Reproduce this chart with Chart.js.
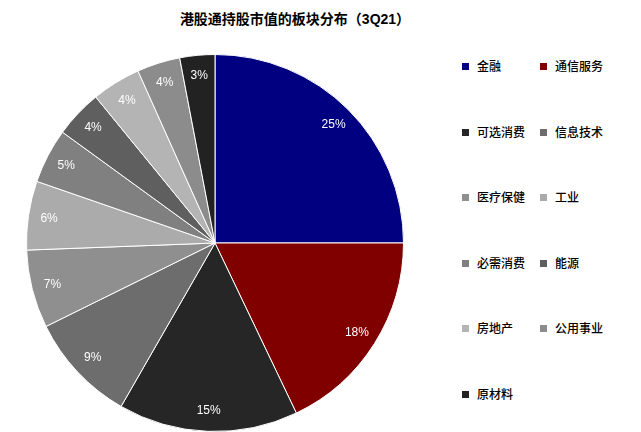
<!DOCTYPE html>
<html>
<head>
<meta charset="utf-8">
<script src="https://cdn.jsdelivr.net/npm/chart.js@4.4.0/dist/chart.umd.min.js"></script>
<style>
    html, body { margin: 0; padding: 0; background: #fff; }
    body { width: 641px; height: 432px; position: relative; overflow: hidden;
           font-family: "Liberation Sans", "Noto Sans CJK SC", sans-serif; }
    .titulo { position: absolute; left: 0; width: 590px; top: 8px; text-align: center;
              font-size: 14px; font-weight: bold; color: #000; }
    .pizza { position: absolute; left: 26px; top: 54px; width: 378px; height: 378px; }
    .legenda { position: absolute; left: 462px; top: 59px; }
    .item { position: absolute; white-space: nowrap; font-size: 12px; color: #000;
            line-height: 16px; font-weight: 500; }
    .item i { display: inline-block; width: 7px; height: 7px; margin-right: 8px;
              vertical-align: 1px; }
</style>
</head>
<body>
<div class="titulo">港股通持股市值的板块分布（3Q21）</div>
<div class="pizza"><canvas id="grafico-setores"></canvas></div>
<div class="legenda" id="legenda"></div>

<script>
// dados (% do valor de mercado)
const setores = ['金融', '通信服务', '可选消费', '信息技术', '医疗保健', '工业',
    '必需消费', '能源', '房地产', '公用事业', '原材料'];
const pesos = [25.0, 17.9, 15.4, 9.4, 6.7, 5.9, 4.7, 4.1, 4.2, 3.7, 3.0];
const cores = ['#000080', '#800000', '#262626', '#6d6d6d', '#8f8f8f', '#ababab',
    '#808080', '#5f5f5f', '#b4b4b4', '#8c8c8c', '#222222'];

// legenda em duas colunas
const legenda = document.getElementById('legenda');
setores.forEach((nome, i) => {
    const el = document.createElement('div');
    el.className = 'item';
    el.style.left = (i % 2 ? 78 : 0) + 'px';
    el.style.top = (Math.floor(i / 2) * 65.5) + 'px';
    el.innerHTML = `<i style="background:${cores[i]}"></i>${nome}`;
    legenda.appendChild(el);
});

// rótulos de porcentagem dentro das fatias
const rotulos = {
    id: 'rotulos',
    afterDatasetsDraw(chart) {
        const ctx = chart.ctx;
        const meta = chart.getDatasetMeta(0);
        ctx.save();
        ctx.fillStyle = '#fff';
        ctx.font = '12px "Liberation Sans", Arial, sans-serif';
        ctx.textAlign = 'center';
        ctx.textBaseline = 'middle';
        meta.data.forEach((arc, i) => {
            const a = (arc.startAngle + arc.endAngle) / 2;
            const r = arc.outerRadius * 0.89;
            ctx.fillText(Math.round(pesos[i]) + '%', arc.x + Math.cos(a) * r, arc.y + Math.sin(a) * r);
        });
        ctx.restore();
    }
};

new Chart(document.getElementById('grafico-setores'), {
    type: 'pie',
    data: {
        labels: setores,
        datasets: [{
            data: pesos,
            backgroundColor: cores,
            borderColor: '#ffffff',
            borderWidth: 1
        }]
    },
    options: {
        responsive: true,
        maintainAspectRatio: false,
        animation: false,
        layout: { padding: 0 },
        plugins: {
            legend: { display: false },
            tooltip: { enabled: false }
        }
    },
    plugins: [rotulos]
});
</script>
</body>
</html>
